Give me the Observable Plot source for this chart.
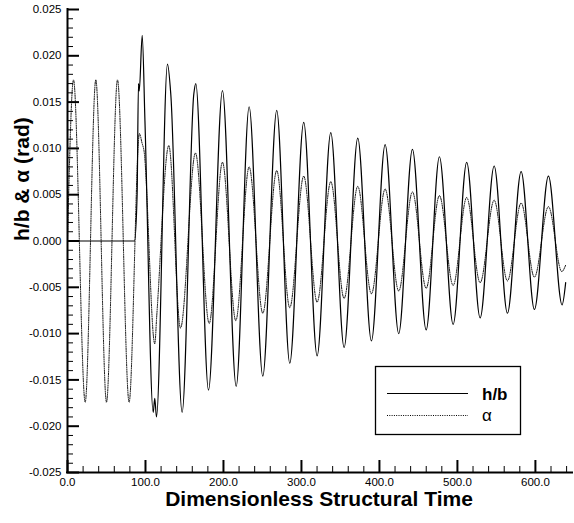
<!DOCTYPE html>
<html>
<head>
<meta charset="utf-8">
<script src="https://cdn.jsdelivr.net/npm/d3@7"></script>
<script src="https://cdn.jsdelivr.net/npm/@observablehq/plot@0.6"></script>
<style>
  html, body { margin: 0; padding: 0; background: #fff; }
  #chart { width: 574px; height: 523px; }
</style>
</head>
<body>
<div id="chart"></div>
<script>
// ---- data ----
const hbT = [0, 86, 89.3, 91.0, 92.0, 95.8, 99.3, 109.9, 111.9, 114.1, 128.2, 132.5, 147.0, 162.0, 164.5, 180.8,
  198.7, 216.3, 232.9, 250.4, 268.3, 285.0, 302.9, 320.1, 337.6, 354.7, 372.2, 389.7, 407.3, 424.7, 442.3,
  459.9, 476.9, 494.5, 511.9, 529.1, 547.1, 564.1, 581.7, 598.7, 616.7, 634.2, 638.8];
const hbV = [0, 0, 0.0051, 0.0170, 0.0162, 0.0222, 0.0130, -0.0185, -0.0170, -0.0190, 0.0191, 0.0158, -0.0185, 0.0159, 0.0170, -0.0161,
  0.01625, -0.0157, 0.0145, -0.0146, 0.0141, -0.0132, 0.0128, -0.0124, 0.0117, -0.0115, 0.0111, -0.0108, 0.0104, -0.0100, 0.0099,
  -0.0096, 0.0091, -0.0090, 0.0085, -0.0083, 0.0081, -0.0078, 0.0075, -0.0074, 0.0070, -0.0069, -0.0045];

const alphaT = [0, 7.7, 22.7, 36.3, 50.0, 64.1, 79.0, 92.3, 95.5, 98.0, 111.9, 114.5, 129.9, 144.9, 164.1, 181.7,
  198.7, 215.8, 232.9, 250.4, 268.3, 285.0, 302.9, 320.1, 337.6, 354.7, 372.2, 389.7, 407.3, 424.7, 442.3,
  459.9, 476.9, 494.5, 511.9, 529.1, 547.1, 564.1, 581.7, 598.7, 616.7, 633.8, 638.8];
const alphaV = [0, 0.0174, -0.0174, 0.0174, -0.0174, 0.0174, -0.0174, 0.0116, 0.0106, 0.0098, -0.0111, -0.0080, 0.0103, -0.0094, 0.0095, -0.0089,
  0.0085, -0.0086, 0.0080, -0.0078, 0.0076, -0.0072, 0.0070, -0.0066, 0.0064, -0.0062, 0.0059, -0.0057, 0.0056, -0.0054, 0.0053,
  -0.0051, 0.0049, -0.0048, 0.0047, -0.0045, 0.0044, -0.0043, 0.0041, -0.0039, 0.0037, -0.0033, -0.0026];

const xMajor = [0, 100, 200, 300, 400, 500, 600];
const xMinor = [20, 40, 60, 80, 120, 140, 160, 180, 220, 240, 260, 280, 320, 340, 360, 380, 420, 440, 460, 480, 520, 540, 560, 580, 620, 640];
const yMajor = [-0.025, -0.02, -0.015, -0.01, -0.005, 0, 0.005, 0.01, 0.015, 0.02, 0.025];
const yMinor = [-0.024, -0.023, -0.022, -0.021, -0.019, -0.018, -0.017, -0.016, -0.014, -0.013, -0.012, -0.011,
  -0.009, -0.008, -0.007, -0.006, -0.004, -0.003, -0.002, -0.001, 0.001, 0.002, 0.003, 0.004,
  0.006, 0.007, 0.008, 0.009, 0.011, 0.012, 0.013, 0.014, 0.016, 0.017, 0.018, 0.019, 0.021, 0.022, 0.023, 0.024];

const xTitle = "Dimensionless Structural Time";
const yTitle = "h/b & α (rad)";
const seriesNames = ["h/b", "α"];

const hb = hbT.map((t, i) => ({t, v: hbV[i]}));
const alpha = alphaT.map((t, i) => ({t, v: alphaV[i]}));

const W = 574, H = 523, mL = 67, mR = 4, mT = 9, mB = 51;
const fw = W - mL - mR, fh = H - mT - mB;

const plot = Plot.plot({
  width: W, height: H,
  marginLeft: mL, marginRight: mR, marginTop: mT, marginBottom: mB,
  x: {domain: [0, 645], label: null},
  y: {domain: [-0.025, 0.025], label: null},
  style: {fontFamily: "'Liberation Sans', Arial, sans-serif", fontSize: "11.5px", color: "black", background: "white", overflow: "visible"},
  marks: [
    Plot.line(alpha, {x: "t", y: "v", curve: "monotone-x", stroke: "black", strokeWidth: 1, strokeDasharray: "1 1.3"}),
    Plot.line(hb, {x: "t", y: "v", curve: "monotone-x", stroke: "black", strokeWidth: 1.2}),
    Plot.tickX(xMinor, {x: d => d, insetTop: fh - 6, stroke: "black", strokeWidth: 1}),
    Plot.tickX(xMajor, {x: d => d, insetTop: fh - 12, stroke: "black", strokeWidth: 2}),
    Plot.tickY(yMinor, {y: d => d, insetRight: fw - 6, stroke: "black", strokeWidth: 1}),
    Plot.tickY(yMajor, {y: d => d, insetRight: fw - 12, stroke: "black", strokeWidth: 2}),
    Plot.ruleX([0], {stroke: "black", strokeWidth: 2, insetTop: -1}),
    Plot.ruleY([-0.025], {stroke: "black", strokeWidth: 2, insetRight: -3, insetLeft: -1}),
    Plot.axisX(xMajor, {tickSize: 0, tickPadding: 5, tickFormat: d => d.toFixed(1)}),
    Plot.axisY(yMajor, {tickSize: 0, tickPadding: 6, tickFormat: d => d.toFixed(3)}),
    Plot.text([xTitle], {text: d => d, frameAnchor: "bottom", dy: 33, fontSize: 21, fontWeight: "bold"}),
    Plot.text([yTitle], {text: d => d, frameAnchor: "left", dx: -45, rotate: -90, fontSize: 21, fontWeight: "bold"})
  ]
});

// legend box
const svg = d3.select(plot);
const g = svg.append("g").attr("font-family", "'Liberation Sans', Arial, sans-serif").attr("text-anchor", "start");
g.append("rect").attr("x", 375.5).attr("y", 366.5).attr("width", 145).attr("height", 68)
  .attr("fill", "white").attr("stroke", "black").attr("stroke-width", 1.3);
g.append("line").attr("x1", 387).attr("x2", 468).attr("y1", 393.5).attr("y2", 393.5)
  .attr("stroke", "black").attr("stroke-width", 1.2);
g.append("line").attr("x1", 387).attr("x2", 468).attr("y1", 415.5).attr("y2", 415.5)
  .attr("stroke", "black").attr("stroke-width", 1).attr("stroke-dasharray", "1 1.3");
g.append("text").attr("x", 482).attr("y", 399.5).attr("font-size", 17).attr("font-weight", "bold").text(seriesNames[0]);
g.append("text").attr("x", 482).attr("y", 421).attr("font-size", 17).text(seriesNames[1]);

document.getElementById("chart").appendChild(plot);
</script>
</body>
</html>
